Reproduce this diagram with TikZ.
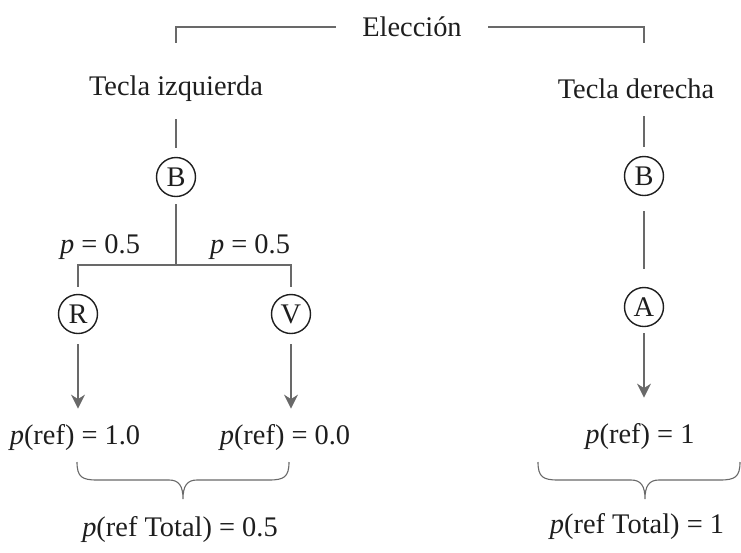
\documentclass[tikz,border=0pt]{standalone}
\usepackage{fontspec}
\setmainfont{Liberation Serif}
\usetikzlibrary{arrows.meta}

\definecolor{linea}{RGB}{105,105,105}
\definecolor{tinta}{RGB}{30,30,30}

\tikzset{
  estado/.style={circle, draw=tinta, line width=0.7pt, minimum size=19.5pt, inner sep=0pt, text=tinta},
  etiqueta/.style={inner sep=0pt, text=tinta},
  rama/.style={draw=linea, line width=0.55pt},
  flecha/.style={rama, -{Stealth[length=7pt,width=7pt]}},
}

\begin{document}
\begin{tikzpicture}[x=0.5pt, y=-0.5pt, font=\fontsize{14.2}{17}\selectfont]
\useasboundingbox (0,0) rectangle (741,553);

% eleccion y teclas
\node[etiqueta, inner xsep=13pt] (elec) at (412,27) {Elección};
\node[etiqueta] (tizq) at (176,89) {Tecla izquierda};
\node[etiqueta] (tder) at (636,89) {Tecla derecha};
\coordinate (izqtop) at (176,43);
\coordinate (dertop) at (644,43);
\draw[rama] (elec.west) -| (izqtop);
\draw[rama] (elec.east) -| (dertop);

% tecla izquierda
\node[estado] (bizq) at (176,177) {B};
\coordinate (fork) at (176,265);
\node[estado] (r) at (78,314) {R};
\node[estado] (v) at (291,314) {V};
\node[etiqueta] (pl) at (100,247) {\textit{p} = 0.5};
\node[etiqueta] (pr) at (250,247) {\textit{p} = 0.5};
\node[etiqueta] (refr) at (75,438) {\textit{p}(ref) = 1.0};
\node[etiqueta] (refv) at (285,438) {\textit{p}(ref) = 0.0};
\node[etiqueta] (totizq) at (180,530) {\textit{p}(ref Total) = 0.5};

\draw[rama, shorten <=8.5pt, shorten >=4.5pt] (tizq) -- (bizq);
\draw[rama, shorten <=3.5pt] (bizq) -- (fork);
\draw[rama, shorten <=3.5pt] (r) |- (fork);
\draw[rama, shorten <=3.5pt] (v) |- (fork);
\draw[flecha, shorten <=5pt, shorten >=8pt] (r.south) -- (r.south |- refr.north);
\draw[flecha, shorten <=5pt, shorten >=8pt] (v.south) -- (v.south |- refv.north);

% tecla derecha
\node[estado] (bder) at (644,176) {B};
\node[estado] (a) at (644,307) {A};
\node[etiqueta] (refa) at (640,437) {\textit{p}(ref) = 1};
\node[etiqueta] (totder) at (637,527) {\textit{p}(ref Total) = 1};

\draw[rama, shorten <=8.5pt, shorten >=4.5pt] (bder.north |- tder.south) -- (bder);
\draw[rama, shorten <=7.5pt, shorten >=9pt] (bder) -- (a);
\draw[flecha, shorten <=3pt, shorten >=13pt] (a.south) -- (a.south |- refa.north);

% llaves
\foreach \ini/\med/\fin in {77/183/289, 538/645/740}
  \draw[rama] (\ini,462) .. controls (\ini,477) and (\ini+5,480) .. (\ini+20,480)
    -- (\med-14,480) .. controls (\med-4,480) and (\med,486) .. (\med,499)
    .. controls (\med,486) and (\med+4,480) .. (\med+14,480)
    -- (\fin-20,480) .. controls (\fin-5,480) and (\fin,477) .. (\fin,462);
\end{tikzpicture}
\end{document}
